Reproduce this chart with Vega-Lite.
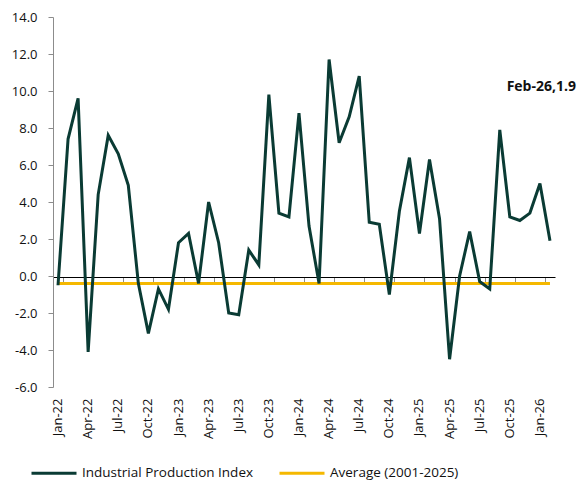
{
  "$schema": "https://vega.github.io/schema/vega-lite/v6.json",
  "width": 502,
  "height": 370,
  "autosize": {"type": "none"},
  "padding": {"left": 53, "top": 17, "right": 22, "bottom": 95},
  "config": {
    "view": {"stroke": null},
    "font": "Open Sans",
    "axisY": {
      "values": [-6, -4, -2, 0, 2, 4, 6, 8, 10, 12, 14],
      "labelExpr": "(datum.value < 0 ? '-' : '') + format(abs(datum.value), '.1f')",
      "grid": false,
      "domainColor": "#8c8c8c",
      "tickColor": "#8c8c8c",
      "tickSize": 5,
      "labelPadding": 11,
      "labelFontSize": 13,
      "labelColor": "#111111",
      "title": null
    },
    "legend": {
      "orient": "none",
      "legendX": -23,
      "legendY": 432,
      "direction": "horizontal",
      "symbolType": "stroke",
      "symbolSize": 2025,
      "symbolStrokeWidth": 3,
      "labelFontSize": 13.5,
      "labelLimit": 400,
      "labelColor": "#111111",
      "labelOffset": 4,
      "columnPadding": 19,
      "title": null
    }
  },
  "data": {
    "values": [
      {"month": "Jan-22", "ipi": -0.5, "avg": -0.4},
      {"month": "Feb-22", "ipi": 7.4, "avg": -0.4},
      {"month": "Mar-22", "ipi": 9.6, "avg": -0.4},
      {"month": "Apr-22", "ipi": -4.1, "avg": -0.4},
      {"month": "May-22", "ipi": 4.4, "avg": -0.4},
      {"month": "Jun-22", "ipi": 7.6, "avg": -0.4},
      {"month": "Jul-22", "ipi": 6.6, "avg": -0.4},
      {"month": "Aug-22", "ipi": 4.9, "avg": -0.4},
      {"month": "Sep-22", "ipi": -0.4, "avg": -0.4},
      {"month": "Oct-22", "ipi": -3.1, "avg": -0.4},
      {"month": "Nov-22", "ipi": -0.7, "avg": -0.4},
      {"month": "Dec-22", "ipi": -1.8, "avg": -0.4},
      {"month": "Jan-23", "ipi": 1.8, "avg": -0.4},
      {"month": "Feb-23", "ipi": 2.3, "avg": -0.4},
      {"month": "Mar-23", "ipi": -0.4, "avg": -0.4},
      {"month": "Apr-23", "ipi": 4.0, "avg": -0.4},
      {"month": "May-23", "ipi": 1.8, "avg": -0.4},
      {"month": "Jun-23", "ipi": -2.0, "avg": -0.4},
      {"month": "Jul-23", "ipi": -2.1, "avg": -0.4},
      {"month": "Aug-23", "ipi": 1.4, "avg": -0.4},
      {"month": "Sep-23", "ipi": 0.6, "avg": -0.4},
      {"month": "Oct-23", "ipi": 9.8, "avg": -0.4},
      {"month": "Nov-23", "ipi": 3.4, "avg": -0.4},
      {"month": "Dec-23", "ipi": 3.2, "avg": -0.4},
      {"month": "Jan-24", "ipi": 8.8, "avg": -0.4},
      {"month": "Feb-24", "ipi": 2.7, "avg": -0.4},
      {"month": "Mar-24", "ipi": -0.4, "avg": -0.4},
      {"month": "Apr-24", "ipi": 11.7, "avg": -0.4},
      {"month": "May-24", "ipi": 7.2, "avg": -0.4},
      {"month": "Jun-24", "ipi": 8.6, "avg": -0.4},
      {"month": "Jul-24", "ipi": 10.8, "avg": -0.4},
      {"month": "Aug-24", "ipi": 2.9, "avg": -0.4},
      {"month": "Sep-24", "ipi": 2.8, "avg": -0.4},
      {"month": "Oct-24", "ipi": -1.0, "avg": -0.4},
      {"month": "Nov-24", "ipi": 3.5, "avg": -0.4},
      {"month": "Dec-24", "ipi": 6.4, "avg": -0.4},
      {"month": "Jan-25", "ipi": 2.3, "avg": -0.4},
      {"month": "Feb-25", "ipi": 6.3, "avg": -0.4},
      {"month": "Mar-25", "ipi": 3.1, "avg": -0.4},
      {"month": "Apr-25", "ipi": -4.5, "avg": -0.4},
      {"month": "May-25", "ipi": 0.0, "avg": -0.4},
      {"month": "Jun-25", "ipi": 2.4, "avg": -0.4},
      {"month": "Jul-25", "ipi": -0.3, "avg": -0.4},
      {"month": "Aug-25", "ipi": -0.7, "avg": -0.4},
      {"month": "Sep-25", "ipi": 7.9, "avg": -0.4},
      {"month": "Oct-25", "ipi": 3.2, "avg": -0.4},
      {"month": "Nov-25", "ipi": 3.0, "avg": -0.4},
      {"month": "Dec-25", "ipi": 3.4, "avg": -0.4},
      {"month": "Jan-26", "ipi": 5.0, "avg": -0.4},
      {"month": "Feb-26", "ipi": 1.9, "avg": -0.4}
    ]
  },
  "layer": [
    {
      "mark": {"type": "line", "strokeWidth": 3},
      "encoding": {
        "x": {
          "field": "month", "type": "ordinal", "sort": null, "bandPosition": 0.5,
          "scale": {"type": "band", "paddingInner": 0, "paddingOuter": 0},
          "axis": {
            "orient": "bottom",
            "offset": -110,
            "values": ["Jan-22","Apr-22","Jul-22","Oct-22","Jan-23","Apr-23","Jul-23","Oct-23","Jan-24","Apr-24","Jul-24","Oct-24","Jan-25","Apr-25","Jul-25","Oct-25","Jan-26"],
            "domain": true, "domainColor": "#000000", "domainWidth": 1,
            "ticks": true, "tickColor": "#8c8c8c", "tickSize": 5, "tickBand": "extent",
            "labels": false, "title": null
          }
        },
        "y": {"field": "avg", "type": "quantitative", "title": null, "scale": {"domain": [-6, 14], "nice": false, "zero": false}},
        "color": {"datum": "Average (2001-2025)", "type": "nominal", "scale": {"domain": ["Industrial Production Index", "Average (2001-2025)"], "range": ["#0a3b34", "#f5b800"]}}
      }
    },
    {
      "mark": {"type": "line", "strokeWidth": 3},
      "encoding": {
        "x": {
          "field": "month", "type": "ordinal", "sort": null, "bandPosition": 0.5,
          "scale": {"type": "band", "paddingInner": 0, "paddingOuter": 0},
          "axis": {
            "orient": "bottom",
            "values": ["Jan-22","Apr-22","Jul-22","Oct-22","Jan-23","Apr-23","Jul-23","Oct-23","Jan-24","Apr-24","Jul-24","Oct-24","Jan-25","Apr-25","Jul-25","Oct-25","Jan-26"],
            "domain": false, "ticks": false,
            "labelAngle": -90, "labelPadding": 11, "labelFontSize": 13, "labelColor": "#111111",
            "title": null
          }
        },
        "y": {"field": "ipi", "type": "quantitative", "title": null, "scale": {"domain": [-6, 14], "nice": false, "zero": false}},
        "color": {"datum": "Industrial Production Index", "type": "nominal"}
      }
    },
    {
      "transform": [{"filter": "datum.month == 'Feb-26'"}],
      "mark": {"type": "text", "text": "Feb-26,1.9", "align": "right", "baseline": "middle", "dx": 26, "fontSize": 14, "fontWeight": "bold", "color": "#111111"},
      "encoding": {
        "x": {"field": "month", "type": "ordinal", "sort": null, "bandPosition": 0.5, "scale": {"type": "band", "paddingInner": 0, "paddingOuter": 0}, "axis": null},
        "y": {"datum": 10.2, "type": "quantitative"}
      }
    }
  ],
  "resolve": {"axis": {"x": "independent"}}
}
